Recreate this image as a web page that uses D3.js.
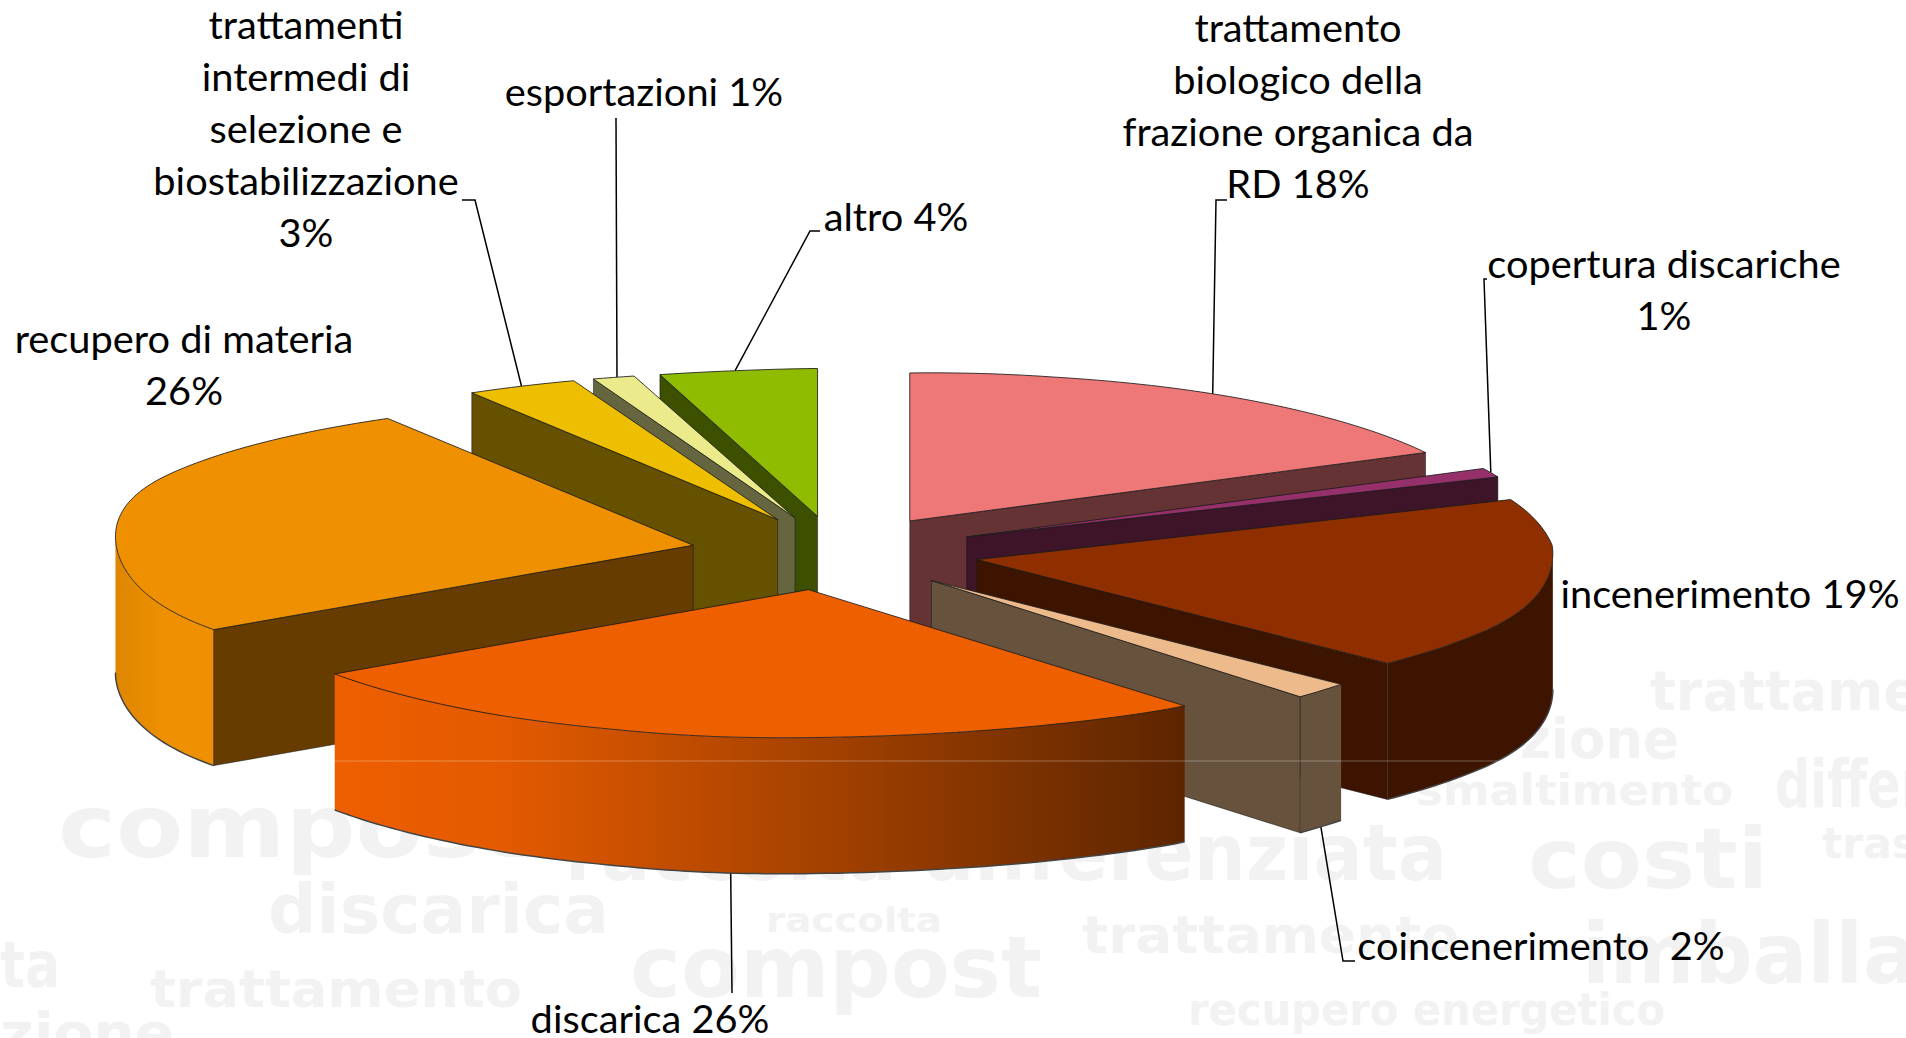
<!DOCTYPE html>
<html lang="it">
<head>
    <meta charset="UTF-8">
    <title>Destinazione dei rifiuti</title>
    <script src="https://d3js.org/d3.v7.min.js"></script>
    <style>
        html, body {
            margin: 0;
            padding: 0;
            background: #fff;
            overflow: hidden;
        }
        .label {
            font-family: Lato, "Open Sans", sans-serif;
            font-size: 38px;
            fill: #000;
        }
        .word {
            font-family: "DejaVu Sans", sans-serif;
            font-weight: bold;
            fill: #f2f2f2;
        }
        .leader {
            fill: none;
            stroke: #000;
            stroke-width: 1.5;
        }
    </style>
</head>
<body>
    <svg id="canvas" width="1906" height="1038"></svg>

    <script>
        // Chart data, clockwise from 12 o'clock
        const categories = [
            "trattamento biologico della frazione organica da RD",
            "copertura discariche",
            "incenerimento",
            "coincenerimento",
            "discarica",
            "recupero di materia",
            "trattamenti intermedi di selezione e biostabilizzazione",
            "esportazioni",
            "altro"
        ];
        const values = [18, 1, 19, 2, 26, 26, 3, 1, 4];
        const topColors = ["#ee7777", "#96306a", "#8f2f00", "#ecba8b", "#ee5f00", "#ee9000", "#eebf00", "#ebeb8c", "#8fbc00"];
        const wallColors = ["#663335", "#3d1428", "#3d1400", "#66523d", "#663c00", "#663c00", "#665100", "#65663f", "#3d5000"];

        // Label text as it wraps in the picture, same order as categories
        const labelLines = [
            ["trattamento", "biologico della", "frazione organica da", "RD 18%"],
            ["copertura discariche", "1%"],
            ["incenerimento 19%"],
            ["coincenerimento  2%"],
            ["discarica 26%"],
            ["recupero di materia", "26%"],
            ["trattamenti", "intermedi di", "selezione e", "biostabilizzazione", "3%"],
            ["esportazioni 1%"],
            ["altro 4%"]
        ];

        // Label placement: centre x, first baseline
        const labelPlaces = [
            [1298, 42], [1664, 278], [1730, 608], [1541, 960], [650, 1033],
            [184, 353], [306, 39], [644, 106], [896, 231]
        ];
        const lineStep = 52;

        // Leader elbows per slice (null = no leader), bias in degrees along the rim
        const leaderTurns = [
            [[1216, 200], [1227, 200]],
            [[1484, 279], [1487, 279]],
            null,
            [[1343, 961], [1355, 961]],
            [[732, 993]],
            null,
            [[475, 200], [462, 200]],
            [[616, 118]],
            [[810, 231], [820, 231]]
        ];
        const leaderBias = [0.8, 0, 0, 0, -2.9, 0, 0, 0.3, -0.7];

        // Faint word cloud behind the chart: text, x, baseline, size, width
        const cloudWords = [
            ["trattame", 1650, 710, 56, 270],
            ["zione", 1520, 758, 56, 159],
            ["smaltimento", 1416, 805, 42, 317],
            ["differ", 1775, 807, 66, 150],
            ["compost", 58, 857, 88, 470],
            ["raccolta differenziata", 565, 880, 78, 882],
            ["costi", 1528, 888, 84, 240],
            ["tras", 1822, 858, 42, 95],
            ["discarica", 268, 933, 68, 341],
            ["raccolta", 766, 932, 34, 176],
            ["trattamento", 1082, 953, 52, 377],
            ["compost", 630, 997, 86, 412],
            ["imballaggi", 1582, 983, 84, 480],
            ["trattamento", 150, 1007, 52, 372],
            ["ta", 0, 987, 64, 60],
            ["recupero energetico", 1188, 1025, 44, 477],
            ["zione", 0, 1052, 56, 174]
        ];

        const svg = d3.select("#canvas");
        const depth = 136;
        const explode = 0.25;

        // Unit disc plane to screen
        const xScale = d3.scaleLinear().domain([-1, 1]).range([836 - 588, 836 + 588]);
        const yScale = d3.scaleLinear().domain([-1, 1]).range([553 + 148, 553 - 148]);

        // Skew of the perspective in the original: rear left and front right
        // spread outward, the centre line stays vertical.
        const rearSkew = d3.scaleLinear().domain([0, 0.15, 0.29, 0.41, 0.6, 1.3]).range([0, 0, 0.32, 0.6, 0.65, 1.3]);
        const frontSkew = d3.scaleLinear().domain([0, 0.5, 0.72, 0.85, 1.25]).range([0, 1, 1, 0.3, 0]).clamp(true);
        const centreNudge = d3.scaleLinear().domain([0, 0.134, 0.5]).range([0, -5, 0]).clamp(true);
        function project(X, Y, z = 0) {
            const skew = X > 0 && Y < 0
                ? 29 * frontSkew(X) * -Y
                : -31.6 * rearSkew(Math.abs(X)) * Y;
            const nudge = X > 0 && Y > -0.1 ? centreNudge(X) : 0;
            // the widest part of the disc is a bit flatter than an ellipse
            const over = Math.max(0, Math.abs(X) - 1.1);
            const soft = X - Math.sign(X) * 1.2 * over * over;
            return [xScale(soft) + skew + nudge, yScale(Y) - 6 * X + z];
        }

        const pie = d3.pie().sort(null).value(d => d);
        const slices = pie(values).map((d, i) => {
            const mid = (d.startAngle + d.endAngle) / 2;
            return {
                i,
                a0: d.startAngle,
                a1: d.endAngle,
                mid,
                ox: explode * Math.sin(mid),
                oy: explode * Math.cos(mid)
            };
        });

        // A point of an exploded slice: angle on the rim, r = 0 is the apex
        function point(s, angle, r = 1, z = 0) {
            return project(s.ox + r * Math.sin(angle), s.oy + r * Math.cos(angle), z);
        }
        function rim(s, a0, a1, z = 0) {
            const n = Math.max(2, Math.ceil((a1 - a0) / 0.02));
            return d3.range(n + 1).map(k => point(s, a0 + (a1 - a0) * k / n, 1, z));
        }

        const line = d3.line();
        const closed = pts => line(pts) + "Z";
        const rad = deg => deg * Math.PI / 180;

        // Where the round wall of a slice turns away from the viewer
        function wallRange(s) {
            if (s.a1 <= rad(85) || s.a0 >= rad(275)) return null;
            const angles = d3.range(s.a0, s.a1, 0.005).concat(s.a1);
            const xAt = a => point(s, a)[0];
            const from = s.a0 < rad(90) ? angles[d3.greatestIndex(angles, xAt)] : s.a0;
            const to = s.a1 > rad(270) ? angles[d3.leastIndex(angles, xAt)] : s.a1;
            return [from, to];
        }

        // Gradients on the two round walls that show shading
        const defs = svg.append("defs");
        const gradA = defs.append("linearGradient").attr("id", "wall-4");
        gradA.append("stop").attr("offset", 0).attr("stop-color", "#ee5f00");
        gradA.append("stop").attr("offset", 0.2).attr("stop-color", "#e35a00");
        gradA.append("stop").attr("offset", 1).attr("stop-color", "#5c2500");
        const gradB = defs.append("linearGradient").attr("id", "wall-5");
        gradB.append("stop").attr("offset", 0).attr("stop-color", "#de8600");
        gradB.append("stop").attr("offset", 0.5).attr("stop-color", "#ee9000");
        gradB.append("stop").attr("offset", 1).attr("stop-color", "#ee9000");

        // Background words
        svg.append("g").selectAll("text")
            .data(cloudWords)
            .enter()
            .append("text")
            .attr("class", "word")
            .attr("x", d => d[1])
            .attr("y", d => d[2])
            .attr("font-size", d => d[3])
            .attr("textLength", d => d[4])
            .attr("lengthAdjust", "spacingAndGlyphs")
            .text(d => d[0]);

        // Leaders go under the solids
        const leaders = slices.filter(s => leaderTurns[s.i]);
        svg.append("g").selectAll("path")
            .data(leaders)
            .enter()
            .append("path")
            .attr("class", "leader")
            .attr("d", s => {
                const angle = s.mid + rad(leaderBias[s.i]);
                const frontSide = Math.cos(angle) < 0;
                const start = point(s, angle, 1, frontSide ? depth : 0);
                return line([start, ...leaderTurns[s.i]]);
            });

        // Painter's order, rear slices first
        const ordered = d3.sort(slices, (a, b) => Math.cos(b.mid) - Math.cos(a.mid));
        const groups = svg.append("g").selectAll("g")
            .data(ordered)
            .enter()
            .append("g");

        const edge = "#1c1c1c";

        groups.each(function (s) {
            const g = d3.select(this);
            const wall = wallColors[s.i];

            // Round wall
            const range = wallRange(s);
            if (range) {
                const upper = rim(s, range[0], range[1]);
                const lower = rim(s, range[0], range[1], depth);
                g.append("path")
                    .attr("d", closed(upper.concat(lower.slice().reverse())))
                    .attr("fill", s.i === 4 || s.i === 5 ? `url(#wall-${s.i})` : wall)
                    .attr("stroke", "none");
                g.append("path")
                    .attr("d", line(lower))
                    .attr("fill", "none")
                    .attr("stroke", "#444")
                    .attr("stroke-width", 1.5);
            }

            // Flat walls along the two radii
            const flat = [];
            if (Math.sin(s.a0) < 0) flat.push(s.a0);
            if (Math.sin(s.a1) > 1e-6) flat.push(s.a1);
            flat.forEach(a => {
                const p = point(s, a, 0), q = point(s, a, 1);
                const pz = point(s, a, 0, depth), qz = point(s, a, 1, depth);
                g.append("path")
                    .attr("d", closed([p, q, qz, pz]))
                    .attr("fill", wall)
                    .attr("stroke", edge)
                    .attr("stroke-opacity", 0.55)
                    .attr("stroke-width", 1);
            });

            // Top face
            const top = [point(s, s.a0, 0)].concat(rim(s, s.a0, s.a1));
            g.append("path")
                .attr("d", closed(top))
                .attr("fill", topColors[s.i])
                .attr("stroke", edge)
                .attr("stroke-opacity", 0.85)
                .attr("stroke-width", 1);
        });

        // Thin pale line that crosses the solids in the original
        svg.append("line")
            .attr("x1", 334).attr("x2", 1498)
            .attr("y1", 761).attr("y2", 761)
            .attr("stroke", "#fff")
            .attr("stroke-opacity", 0.3);

        // Labels, the lettering in the picture is slightly stretched sideways
        svg.append("g").selectAll("text")
            .data(labelLines.flatMap((lines, i) => lines.map((t, k) => ({ t, k, i }))))
            .enter()
            .append("text")
            .attr("class", "label")
            .attr("text-anchor", "middle")
            .attr("xml:space", "preserve")
            .attr("transform", d => `translate(${labelPlaces[d.i][0]},${labelPlaces[d.i][1] + d.k * lineStep}) scale(1.047,1)`)
            .text(d => d.t);
    </script>
</body>
</html>
